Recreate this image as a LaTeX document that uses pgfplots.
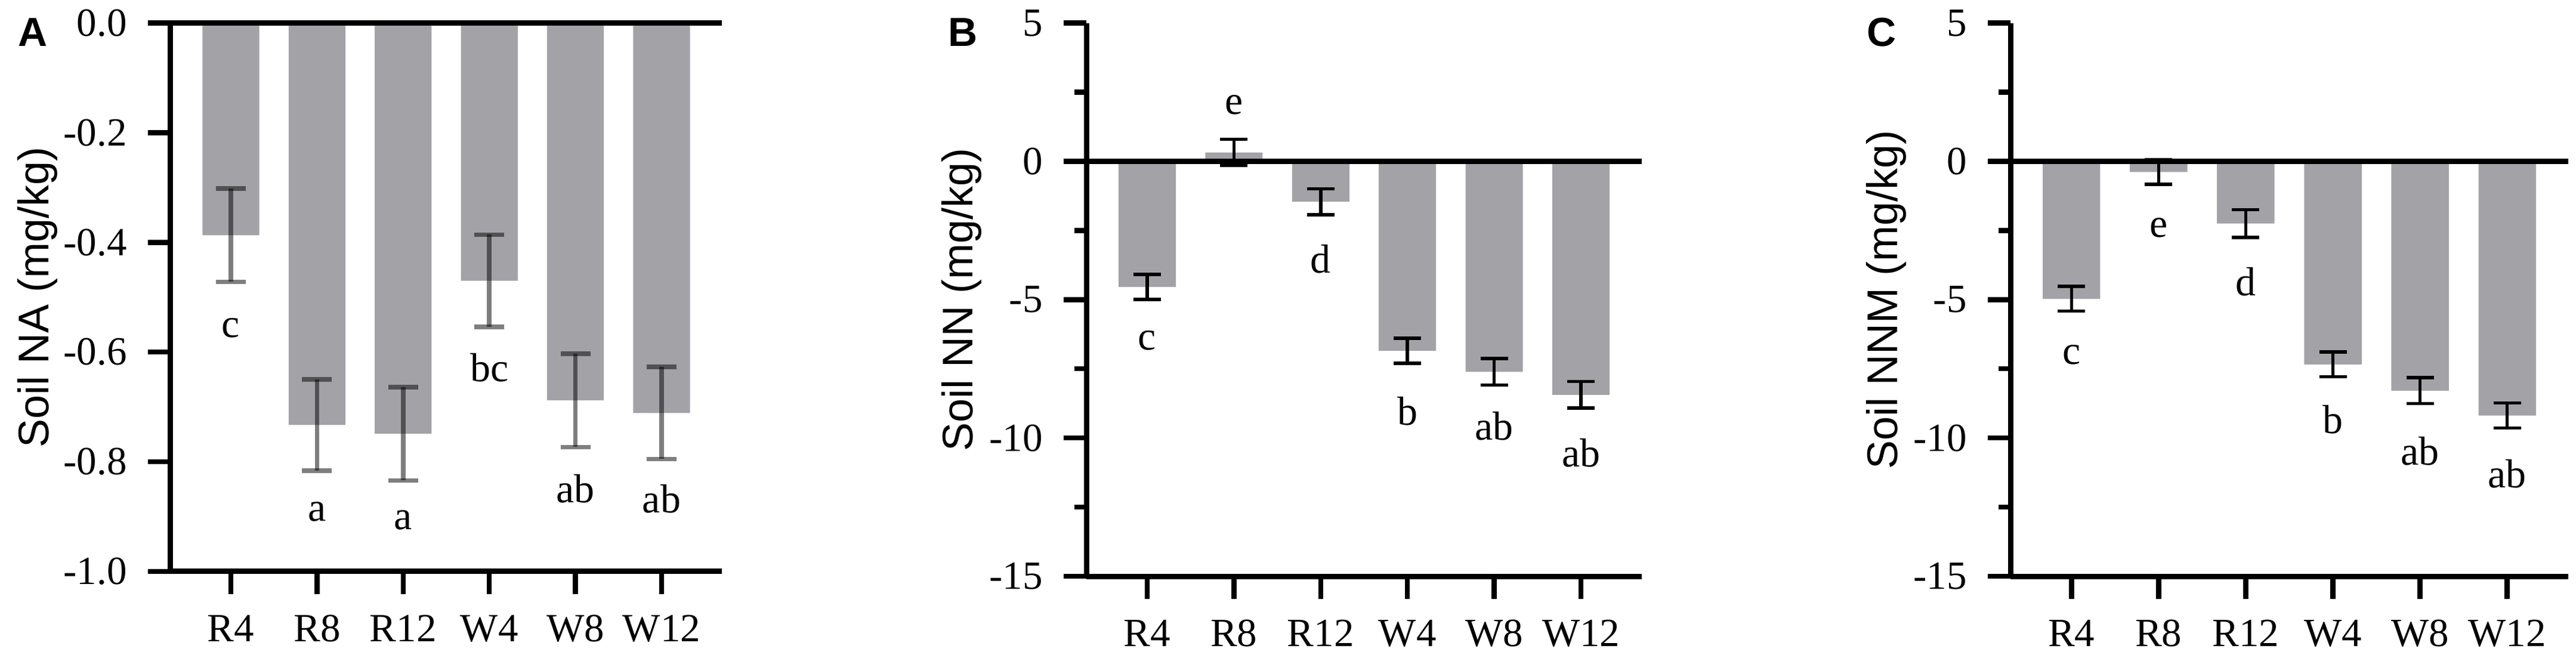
\documentclass[border=0pt]{standalone}
\usepackage{pgfplots}
\pgfplotsset{compat=1.18}
\usepackage{fontspec}
\setmainfont{Liberation Serif}
\setsansfont{Liberation Sans}
\definecolor{barg}{HTML}{A3A3A7}

\pgfplotsset{
  panel/.style={
    scale only axis,
    anchor=south west,
    clip=false,
    xmin=-0.7, xmax=5.7,
    axis x line*=bottom, axis y line*=left,
    axis line style={-, line width=0.9pt, black},
    tick align=outside,
    major tick length=3.8pt,
    minor tick length=2.0pt,
    every tick/.style={black, line width=0.85pt},
    minor tick style={black, line width=0.85pt},
    xtick={0,1,2,3,4,5},
    xticklabels={R4,R8,R12,W4,W8,W12},
    tick label style={font=\fontsize{6.7pt}{8pt}\selectfont},
    ylabel style={font=\sffamily\fontsize{7.2pt}{8.5pt}\selectfont, anchor=center, rotate=0},
    ybar, bar width=0.66,
  },
}

\begin{document}
\begin{tikzpicture}
\path[use as bounding box] (0,0) rectangle (431.8pt,109.8pt);

% ---------------- Panel A ----------------
\begin{axis}[panel,
  at={(28.6pt,14.0pt)}, width=92.4pt, height=91.95pt,
  ymin=-1, ymax=0,
  ytick={-1,-0.8,-0.6,-0.4,-0.2,0},
  yticklabels={-1.0,-0.8,-0.6,-0.4,-0.2,0.0},
  ylabel={Soil NA (mg/kg)},
  ylabel style={at={(axis description cs:-0.241,0.5)}},
]
\addplot[fill=barg, draw=none,
  error bars/.cd, y dir=both, y explicit,
  error bar style={line width=0.75pt, black, opacity=0.5},
  error mark options={rotate=90, mark size=2.5pt, line width=0.75pt, black, opacity=0.5}]
  coordinates {
  (0,-0.387) +- (0,0.085)
  (1,-0.733) +- (0,0.083)
  (2,-0.749) +- (0,0.085)
  (3,-0.470) +- (0,0.084)
  (4,-0.688) +- (0,0.085)
  (5,-0.711) +- (0,0.084)
};
\addplot[sharp plot, black, line width=0.9pt, forget plot] coordinates {(-0.7,0) (5.7,0)};
\begin{scope}[font=\fontsize{6.8pt}{8pt}\selectfont]
\node at (axis cs:0,-0.556) {c};
\node at (axis cs:1,-0.891) {a};
\node at (axis cs:2,-0.906) {a};
\node at (axis cs:3,-0.628) {bc};
\node at (axis cs:4,-0.849) {ab};
\node at (axis cs:5,-0.868) {ab};
\end{scope}
\end{axis}

% ---------------- Panel B ----------------
\begin{axis}[panel,
  at={(182.1pt,13.2pt)}, width=93.1pt, height=92.75pt,
  ymin=-15, ymax=5,
  ytick={-15,-10,-5,0,5},
  yticklabels={-15,-10,-5,0,5},
  minor ytick={-12.5,-7.5,-2.5,2.5},
  ylabel={Soil NN (mg/kg)},
  ylabel style={at={(axis description cs:-0.2245,0.5)}},
]
\addplot[fill=barg, draw=none,
  error bars/.cd, y dir=both, y explicit,
  error bar style={line width=0.55pt, black},
  error mark options={rotate=90, mark size=2.3pt, line width=0.55pt, black}]
  coordinates {
  (0,-4.54) +- (0,0.45)
  (1,0.32) +- (0,0.47)
  (2,-1.46) +- (0,0.47)
  (3,-6.85) +- (0,0.45)
  (4,-7.61) +- (0,0.48)
  (5,-8.44) +- (0,0.48)
};
\addplot[sharp plot, black, line width=0.9pt, forget plot] coordinates {(-0.7,0) (5.7,0)};
\begin{scope}[font=\fontsize{6.8pt}{8pt}\selectfont]
\node at (axis cs:0,-6.48) {c};
\node at (axis cs:1,2.05) {e};
\node at (axis cs:2,-3.53) {d};
\node at (axis cs:3,-9.04) {b};
\node at (axis cs:4,-9.57) {ab};
\node at (axis cs:5,-10.55) {ab};
\end{scope}
\end{axis}

% ---------------- Panel C ----------------
\begin{axis}[panel,
  at={(337.0pt,13.2pt)}, width=93.5pt, height=92.75pt,
  ymin=-15, ymax=5,
  ytick={-15,-10,-5,0,5},
  yticklabels={-15,-10,-5,0,5},
  minor ytick={-12.5,-7.5,-2.5,2.5},
  ylabel={Soil NNM (mg/kg)},
  ylabel style={at={(axis description cs:-0.2225,0.5)}},
]
\addplot[fill=barg, draw=none,
  error bars/.cd, y dir=both, y explicit,
  error bar style={line width=0.55pt, black},
  error mark options={rotate=90, mark size=2.3pt, line width=0.55pt, black}]
  coordinates {
  (0,-4.97) +- (0,0.45)
  (1,-0.39) +- (0,0.44)
  (2,-2.25) +- (0,0.50)
  (3,-7.34) +- (0,0.45)
  (4,-8.29) +- (0,0.47)
  (5,-9.19) +- (0,0.45)
};
\addplot[sharp plot, black, line width=0.9pt, forget plot] coordinates {(-0.7,0) (5.7,0)};
\begin{scope}[font=\fontsize{6.8pt}{8pt}\selectfont]
\node at (axis cs:0,-7.0) {c};
\node at (axis cs:1,-2.4) {e};
\node at (axis cs:2,-4.36) {d};
\node at (axis cs:3,-9.34) {b};
\node at (axis cs:4,-10.47) {ab};
\node at (axis cs:5,-11.3) {ab};
\end{scope}
\end{axis}

% panel letters
\begin{scope}[font=\sffamily\bfseries\fontsize{6.8pt}{8pt}\selectfont]
\node at (5.5pt,104.4pt) {A};
\node at (161.4pt,104.4pt) {B};
\node at (315.4pt,104.4pt) {C};
\end{scope}
\end{tikzpicture}
\end{document}
